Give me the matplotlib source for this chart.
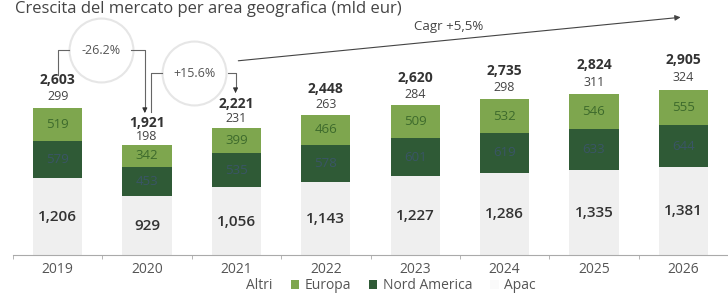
import numpy as np
import matplotlib
matplotlib.use("Agg")
import matplotlib.pyplot as plt

plt.rcParams['font.family'] = ['Open Sans', 'DejaVu Sans']

years = ["2019", "2020", "2021", "2022", "2023", "2024", "2025", "2026"]
apac = [1206, 929, 1056, 1143, 1227, 1286, 1335, 1381]
nord_america = [579, 453, 535, 578, 601, 619, 633, 644]
europa = [519, 342, 399, 466, 509, 532, 546, 555]
altri = [299, 198, 231, 263, 284, 298, 311, 324]
totals = [2603, 1921, 2221, 2448, 2620, 2735, 2824, 2905]
title = "Crescita del mercato per area geografica (mld eur)"

c_apac = "#efefef"
c_na = "#2f5a36"
c_eu = "#7ea64e"
c_altri = "#ffffff"

fig = plt.figure(figsize=(7.28, 2.94), dpi=100)
ax = fig.add_axes([13/728, 39/294, 1 - 13/728, 255/294])
x = np.arange(len(years))
w = 0.55

b_apac = np.array(apac, dtype=float)
b_na = b_apac + np.array(nord_america)
b_eu = b_na + np.array(europa)

h_apac = ax.bar(x, apac, w, color=c_apac, label="Apac")
h_na = ax.bar(x, nord_america, w, bottom=b_apac, color=c_na, label="Nord America")
h_eu = ax.bar(x, europa, w, bottom=b_na, color=c_eu, label="Europa")
h_altri = ax.bar(x, altri, w, bottom=b_eu, color=c_altri, label="Altri")

for i in range(len(years)):
    ax.text(x[i], apac[i] / 2 - 10, f"{apac[i]:,}", ha="center", va="center",
            fontsize=11, fontweight="semibold", color="#333333")
    ax.text(x[i], b_apac[i] + nord_america[i] / 2, f"{nord_america[i]}", ha="center",
            va="center", fontsize=9.5, color="#3a5566")
    ax.text(x[i], b_na[i] + europa[i] / 2, f"{europa[i]}", ha="center", va="center",
            fontsize=9.5, color="#3d6a2c")
    ax.text(x[i], b_eu[i] + altri[i] / 2 + 30, f"{altri[i]}", ha="center", va="center",
            fontsize=9, color="#444444")
    ax.text(x[i], b_eu[i] + altri[i] + 30, f"{totals[i]:,}", ha="center", va="bottom",
            fontsize=10, fontweight="bold", color="#333333")

ax.set_xlim(-0.5, 7.33)
ax.set_ylim(0, 3985)
for s in ["top", "right", "left"]:
    ax.spines[s].set_visible(False)
ax.spines["bottom"].set_color("#aaaaaa")
ax.set_yticks([])
ax.set_xticks(x)
ax.set_xticklabels(years, fontsize=10, color="#555555")
ax.tick_params(axis="x", length=0, pad=5)
ax.set_xticks(np.arange(-0.5, 7.6, 1), minor=True)
ax.tick_params(axis="x", which="minor", length=3, color="#aaaaaa")

lc = "#666666"
circ = "#e6e6e6"
# annotation -26.2%
ax.plot([0.48], [3203], marker="o", ms=46, mfc="none", mec=circ, mew=1.5)
ax.text(0.48, 3203, "-26.2%", ha="center", va="center", fontsize=9, color="#555555")
ax.plot([0, 0, 0.13], [2812, 3203, 3203], color=lc, lw=0.8)
ax.plot([0.82, 0.975, 0.975], [3203, 3203, 2290], color=lc, lw=0.8)
ax.annotate("", xy=(0.975, 2219), xytext=(0.975, 2300),
            arrowprops=dict(arrowstyle="-|>", color="#333333", lw=0.8, mutation_scale=7))
# annotation +15.6%
ax.plot([1.53], [2844], marker="o", ms=46, mfc="none", mec=circ, mew=1.5)
ax.text(1.53, 2844, "+15.6%", ha="center", va="center", fontsize=9, color="#555555")
ax.plot([1.04, 1.04, 1.17], [2234, 2844, 2844], color=lc, lw=0.8)
ax.plot([1.9, 1.99, 1.99], [2844, 2844, 2600], color=lc, lw=0.8)
ax.annotate("", xy=(1.99, 2531), xytext=(1.99, 2610),
            arrowprops=dict(arrowstyle="-|>", color="#333333", lw=0.8, mutation_scale=7))
# CAGR arrow
ax.annotate("", xy=(7.0, 3719), xytext=(1.99, 3031),
            arrowprops=dict(arrowstyle="-|>", color="#444444", lw=0.8, mutation_scale=8))
ax.text(4.37, 3578, "Cagr +5,5%", ha="center", va="center", fontsize=9.5, color="#444444")

fig.text(15/728, 1 - 1/294, title, ha="left", va="top", fontsize=12, color="#444444")

handles = [h_altri, h_eu, h_na, h_apac]
leg = fig.legend(handles, ["Altri", "Europa", "Nord America", "Apac"], loc="center",
                 bbox_to_anchor=(384/728, 0.028), ncol=4, frameon=False, fontsize=10,
                 handlelength=0.6, handleheight=0.6, handletextpad=0.4, columnspacing=1.3)
for t in leg.get_texts():
    t.set_color("#555555")
leg.legend_handles[3].set_facecolor("#fafafa")

fig.savefig("out.png", dpi=100)
